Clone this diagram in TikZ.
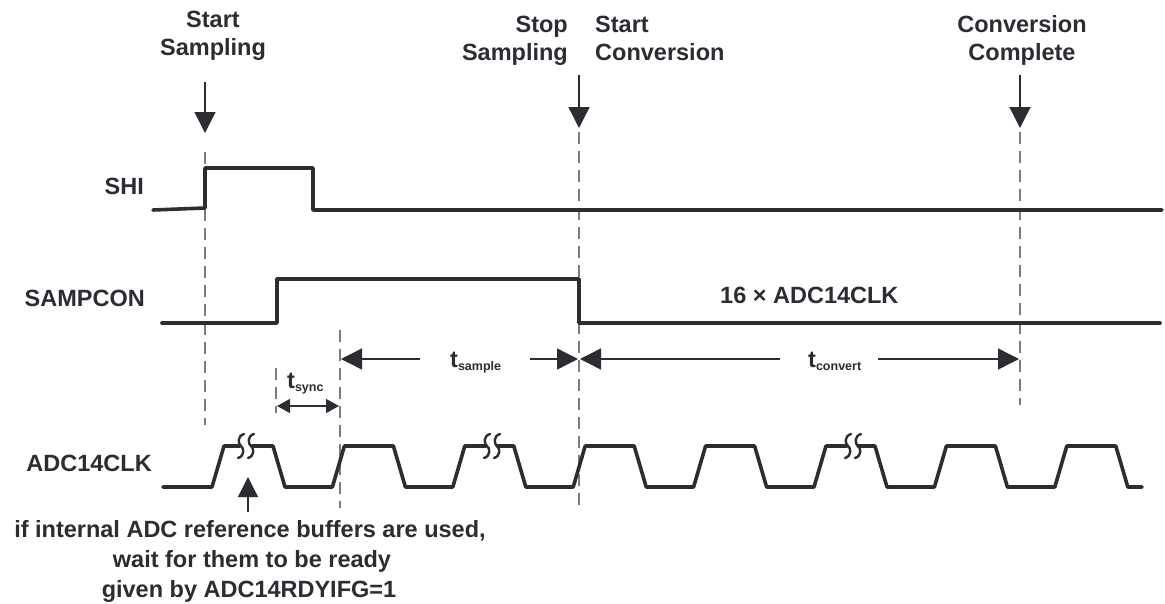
\documentclass[tikz,border=0pt]{standalone}
\usepackage{fontspec}
\setmainfont{Liberation Sans}
\usetikzlibrary{arrows.meta}
\definecolor{ink}{HTML}{2B2D32}
\definecolor{guidegray}{HTML}{7C7C7C}
\newcommand\mytsub[1]{t\raisebox{-3pt}{\fontsize{12.5}{12.5}\selectfont #1}}
\begin{document}
\begin{tikzpicture}[x=1pt,y=-1pt,
  wave/.style={ink, line width=3.6pt, line join=round, line cap=round},
  guide/.style={guidegray, line width=1.6pt, dash pattern=on 12pt off 7pt},
  bigarrow/.style={ink, line width=1.4pt, -{Triangle[length=21pt,width=21pt]}},
  smallarrow/.style={ink, line width=1.4pt, {Triangle[length=13pt,width=14pt]}-{Triangle[length=13pt,width=14pt]}},
  lbl/.style={font=\fontsize{23.5}{28}\selectfont\bfseries, text=ink, inner sep=0pt},
  squig/.style={ink, line width=2.4pt, line cap=round},
]
\useasboundingbox (0,0) rectangle (1165,603);
\fill[white] (0,0) rectangle (1165,603);

% guide lines
\draw[guide] (205,152) -- (205,425);
\draw[guide] (276,368) -- (276,413);
\draw[guide] (340,330) -- (340,508);
\draw[guide] (579,132) -- (579,510);
\draw[guide] (1020,132) -- (1020,405);

% top labels
\node[lbl, anchor=base] (ss1) at (213,27) {Start};
\node[lbl, anchor=base] (ss2) at (213,55) {Sampling};
\node[lbl, anchor=base east] (sp1) at (568,32) {Stop};
\node[lbl, anchor=base east] (sp2) at (568,60) {Sampling};
\node[lbl, anchor=base west] (sc1) at (595,32) {Start};
\node[lbl, anchor=base west] (sc2) at (595,60) {Conversion};
\node[lbl, anchor=base] (cc1) at (1022,32) {Conversion};
\node[lbl, anchor=base] (cc2) at (1022,60) {Complete};

% event arrows
\coordinate (a1s) at (205,82);  \coordinate (a1e) at (205,133);
\coordinate (a2s) at (579,75);  \coordinate (a2e) at (579,128);
\coordinate (a3s) at (1020,75); \coordinate (a3e) at (1020,128);
\draw[bigarrow] (a1s) -- (a1e);
\draw[bigarrow] (a2s) -- (a2e);
\draw[bigarrow] (a3s) -- (a3e);

% signal names
\node[lbl, anchor=base east] (shi) at (144,194) {SHI};
\node[lbl, anchor=base east] (samp) at (145,306) {SAMPCON};
\node[lbl, anchor=base east] (clk) at (152,471) {ADC14CLK};

% SHI
\draw[wave] (153,210) -- (205,208) -- (205,168) -- (313,168) -- (313,210) -- (1162,210);
% SAMPCON
\draw[wave] (162,323) -- (277,323) -- (277,279) -- (579,279) -- (579,323) -- (1160,323);
\node[lbl, anchor=base west] (sixteen) at (720,303) {16 × ADC14CLK};

% ADC14CLK
\draw[wave] (163,487) -- (212,487) -- (224,446) -- (240,446);
\draw[wave] (252,446) -- (273,446) -- (285,487) -- (332.4,487) -- (344.4,446) -- (393.4,446) -- (405.4,487) -- (452.8,487) -- (464.8,446) -- (486,446);
\draw[wave] (497,446) -- (513.8,446) -- (525.8,487) -- (573.2,487) -- (585.2,446) -- (634.2,446) -- (646.2,487) -- (693.6,487) -- (705.6,446) -- (754.6,446) -- (766.6,487) -- (814,487) -- (826,446) -- (847,446);
\draw[wave] (858,446) -- (875,446) -- (887,487) -- (934.4,487) -- (946.4,446) -- (995.4,446) -- (1007.4,487) -- (1054.8,487) -- (1066.8,446) -- (1115.8,446) -- (1127.8,487) -- (1142,487);
% break marks
\foreach \cx in {241,251,487,497,848,858}{
  \draw[squig] (\cx+3,434) .. controls (\cx-4,436) and (\cx-3,444) .. (\cx,446)
                           .. controls (\cx+3,448) and (\cx+4,456) .. (\cx-3,458);
}

% t_sync
\coordinate (sy1) at (277,406); \coordinate (sy2) at (339,406);
\draw[smallarrow] (sy1) -- (sy2);
\node[lbl, anchor=base west] (tsync) at (287,388) {\mytsub{sync}};

% t_sample
\coordinate (ts0) at (341,359); \coordinate (ts1) at (420,359);
\coordinate (ts2) at (530,359); \coordinate (ts3) at (578,359);
\draw[bigarrow] (ts1) -- (ts0);
\draw[bigarrow] (ts2) -- (ts3);
\node[lbl, anchor=base west] (tsample) at (450,367) {\mytsub{sample}};

% t_convert
\coordinate (tc0) at (580,359); \coordinate (tc1) at (780,359);
\coordinate (tc2) at (878,359); \coordinate (tc3) at (1019,359);
\draw[bigarrow] (tc1) -- (tc0);
\draw[bigarrow] (tc2) -- (tc3);
\node[lbl, anchor=base west] (tconvert) at (808,367) {\mytsub{convert}};

% annotation
\coordinate (an0) at (248,512); \coordinate (an1) at (248,477);
\draw[ink, line width=1.4pt, -{Triangle[length=20pt,width=20pt]}] (an0) -- (an1);
\node[lbl, anchor=base] (note1) at (250,537) {if internal ADC reference buffers are used,};
\node[lbl, anchor=base] (note2) at (252,567) {wait for them to be ready};
\node[lbl, anchor=base] (note3) at (249,597) {given by ADC14RDYIFG=1};
\end{tikzpicture}
\end{document}
